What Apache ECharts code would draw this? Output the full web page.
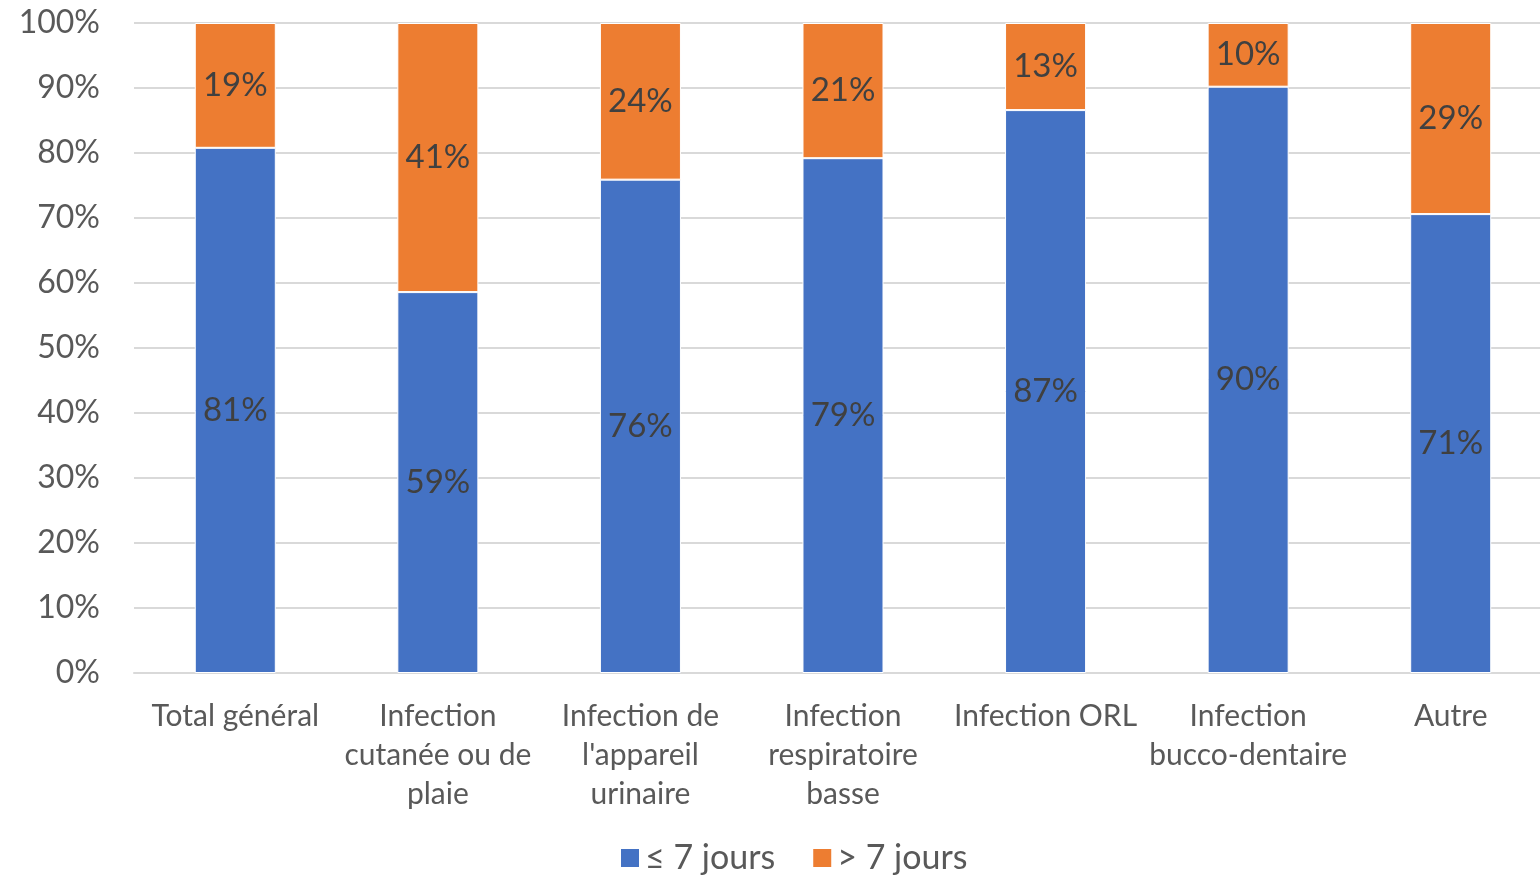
<!DOCTYPE html>
<html>
<head>
<meta charset="utf-8">
<script src="https://cdn.jsdelivr.net/npm/echarts@6/dist/echarts.min.js"></script>
<style>
  html, body { margin: 0; padding: 0; background: #fff; overflow: hidden; }
  #MyChart { width: 1552px; height: 877px; }
</style>
</head>
<body>
<div id="MyChart"></div>
<script>
// catégories et valeurs (%)
const categories = [
  'Total général',
  'Infection\ncutanée ou de\nplaie',
  "Infection de\nl'appareil\nurinaire",
  'Infection\nrespiratoire\nbasse',
  'Infection ORL',
  'Infection\nbucco-dentaire',
  'Autre'
]
const court = [80.8, 58.6, 75.9, 79.2, 86.6, 90.2, 70.6]   // ≤ 7 jours
const long = [19.2, 41.4, 24.1, 20.8, 13.4, 9.8, 29.4]     // > 7 jours
const yTicks = [0, 10, 20, 30, 40, 50, 60, 70, 80, 90, 100]

const font = 'Lato, "Open Sans", sans-serif'

// le graphique déborde un peu à droite comme l'original
let myChart = echarts.init(document.getElementById('MyChart'))
let label = {
  show: true,
  position: 'inside',
  color: '#404040',
  fontSize: 33,
  fontFamily: font,
  formatter: p => Math.round(p.value) + '%'
}
let option = {
  animation: false,
  grid: { left: 134, right: 0, top: 23, bottom: 204 },
  legend: {
    top: 836,
    left: 614,
    itemWidth: 20,
    itemHeight: 20,
    itemGap: 36,
    icon: 'rect',
    textStyle: { fontSize: 34, color: '#595959', fontFamily: font }
  },
  xAxis: {
    type: 'category',
    data: categories,
    axisTick: { show: false },
    axisLine: { lineStyle: { color: '#d9d9d9', width: 2 } },
    axisLabel: {
      interval: 0,
      margin: 24,
      fontSize: 30,
      lineHeight: 39,
      color: '#595959',
      fontFamily: font
    }
  },
  yAxis: {
    type: 'value',
    min: 0,
    max: yTicks[yTicks.length - 1],
    interval: 10,
    axisLine: { show: false },
    axisTick: { show: false },
    splitLine: { lineStyle: { color: '#d9d9d9', width: 2 } },
    axisLabel: {
      margin: 34,
      fontSize: 32,
      color: '#595959',
      fontFamily: font,
      formatter: v => v + '%'
    }
  },
  series: [
    {
      name: '≤ 7 jours',
      type: 'bar',
      stack: 'total',
      barWidth: '40%',
      data: court,
      itemStyle: { color: '#4472c4', borderColor: '#fff', borderWidth: 1 },
      label: label
    },
    {
      name: '> 7 jours',
      type: 'bar',
      stack: 'total',
      barWidth: '40%',
      data: long,
      itemStyle: { color: '#ed7d31', borderColor: '#fff', borderWidth: 1 },
      label: label
    }
  ]
}
myChart.setOption(option)
</script>
</body>
</html>
